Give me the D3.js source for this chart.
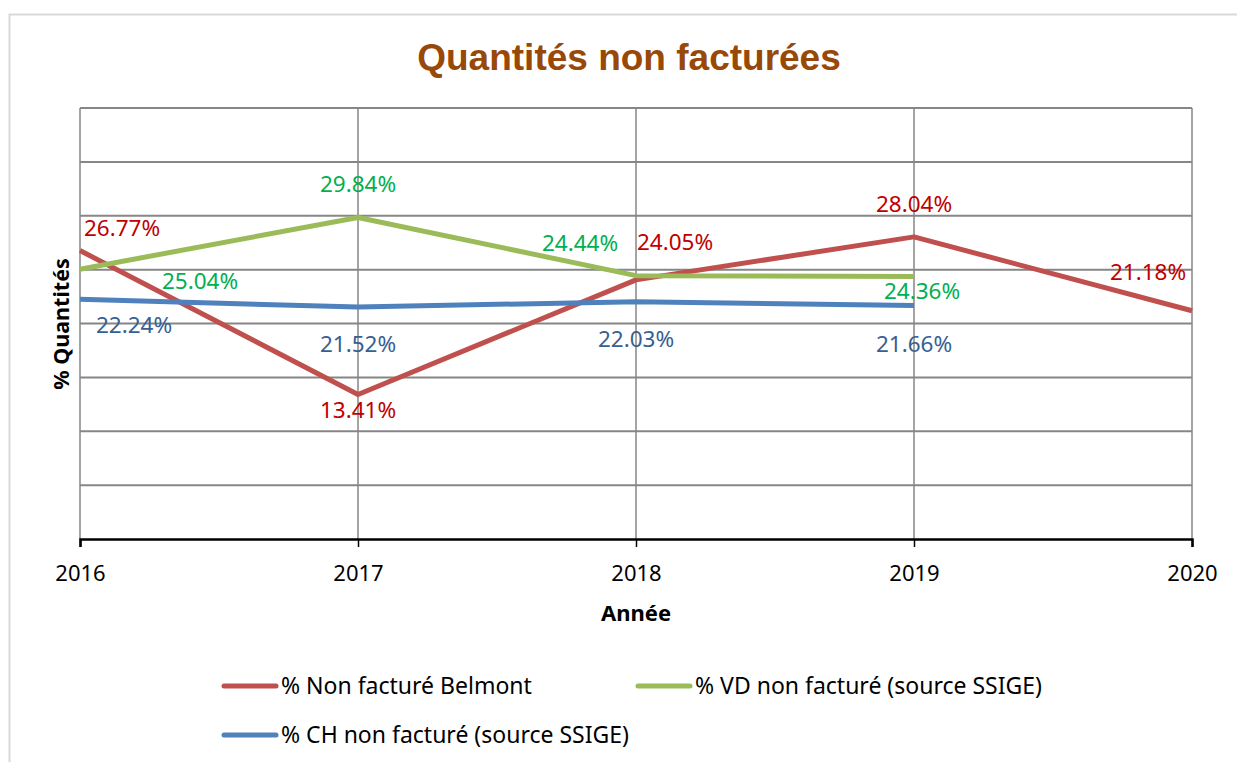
<!DOCTYPE html>
<html>
<head>
<meta charset="utf-8">
<style>
  body { margin: 0; background: #fff; }
  text { font-family: "Noto Sans", sans-serif; }
</style>
<title>Quantités non facturées</title>
</head>
<body>
<script src="https://cdn.jsdelivr.net/npm/d3@7/dist/d3.min.js"></script>
<script>
// data
var years = [2016, 2017, 2018, 2019, 2020];
var belmont = [26.77, 13.41, 24.05, 28.04, 21.18];
var vaud = [25.04, 29.84, 24.44, 24.36];
var suisse = [22.24, 21.52, 22.03, 21.66];
var yTicks = [0, 5, 10, 15, 20, 25, 30, 35, 40];

var width = 1237, height = 762;
var plotLeft = 80, plotRight = 1192, plotTop = 108, plotBottom = 539;

var svg = d3.select("body").append("svg").attr("width", width).attr("height", height);

// outer frame (runs off the page on right and bottom)
svg.append("rect").attr("x", 9.5).attr("y", 14.5).attr("width", 1300).attr("height", 800)
  .attr("fill", "none").attr("stroke", "#d9d9d9").attr("stroke-width", 2);

var x = d3.scaleLinear().domain([2016, 2020]).range([plotLeft, plotRight]);
var y = d3.scaleLinear().domain([0, 40]).range([plotBottom, plotTop]);

// gridlines
svg.append("g").selectAll("line").data(yTicks.slice(1)).enter().append("line")
  .attr("x1", plotLeft).attr("x2", plotRight).attr("y1", function(d) { return y(d); }).attr("y2", function(d) { return y(d); })
  .attr("stroke", "#868686").attr("stroke-width", 2);
svg.append("g").selectAll("line").data(years).enter().append("line")
  .attr("x1", function(d) { return x(d); }).attr("x2", function(d) { return x(d); })
  .attr("y1", plotTop).attr("y2", plotBottom)
  .attr("stroke", "#868686").attr("stroke-width", 1.5);

// x axis
var xAxis = d3.axisBottom(x).tickValues(years).tickFormat(d3.format("d")).tickSize(8).tickPadding(18);
var gx = svg.append("g").attr("transform", "translate(0," + plotBottom + ")").call(xAxis);
gx.select(".domain").attr("stroke", "#000").attr("stroke-width", 2.5);
gx.selectAll(".tick line").attr("stroke", "#000").attr("stroke-width", 1.5);
gx.selectAll(".tick text").attr("font-family", "Noto Sans").attr("font-size", 22).attr("fill", "#000");

// titles
svg.append("text").attr("x", 629).attr("y", 70).attr("text-anchor", "middle")
  .style("font-family", "Liberation Sans, Arial, sans-serif").attr("font-weight", "bold")
  .attr("font-size", 37).attr("fill", "#984807").text("Quantités non facturées");
svg.append("text").attr("x", 636).attr("y", 621).attr("text-anchor", "middle")
  .attr("font-weight", "bold").attr("font-size", 22).text("Année");
svg.append("text").attr("transform", "translate(69,324) rotate(-90)").attr("text-anchor", "middle")
  .attr("font-weight", "bold").attr("font-size", 21.5).text("% Quantités");

var series = [
  { name: "% Non facturé Belmont", values: belmont, line: "#c0504d", label: "#c00000",
    offs: [[42, -22], [0, 16], [39, -38], [0, -33], [-44, -39]] },
  { name: "% VD non facturé (source SSIGE)", values: vaud, line: "#9bbb59", label: "#00b050",
    offs: [[120, 12], [0, -33], [-56, -33], [8, 15]] },
  { name: "% CH non facturé (source SSIGE)", values: suisse, line: "#4f81bd", label: "#376092",
    offs: [[54, 26], [0, 37], [0, 37], [0, 39]] }
];

var line = d3.line().x(function(d, i) { return x(years[i]); }).y(function(d) { return y(d); });

series.forEach(function(s) {
  svg.append("path").datum(s.values).attr("d", line).attr("fill", "none")
    .attr("stroke", s.line).attr("stroke-width", 5).attr("stroke-linejoin", "round");
});

series.forEach(function(s) {
  svg.append("g").selectAll("text").data(s.values).enter().append("text")
    .attr("x", function(d, i) { return x(years[i]) + s.offs[i][0]; })
    .attr("y", function(d, i) { return y(d) + s.offs[i][1]; })
    .attr("dy", "0.35em").attr("text-anchor", "middle")
    .attr("font-size", 22.5).attr("fill", s.label)
    .text(function(d) { return d.toFixed(2) + "%"; });
});

// legend
var legendPos = [[222, 686], [636, 686], [222, 735]];
series.forEach(function(s, i) {
  var g = svg.append("g").attr("transform", "translate(" + legendPos[i][0] + "," + legendPos[i][1] + ")");
  g.append("line").attr("x1", 2).attr("x2", 54).attr("stroke", s.line).attr("stroke-width", 5).attr("stroke-linecap", "round");
  g.append("text").attr("x", 59).attr("dy", "0.35em").attr("font-size", 23).attr("fill", "#000").text(s.name);
});
</script>
</body>
</html>
